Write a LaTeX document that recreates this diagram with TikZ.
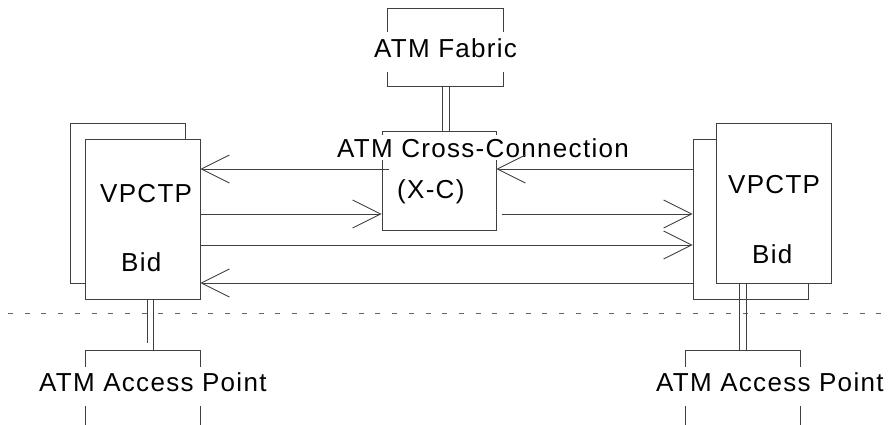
\documentclass[tikz,border=0pt]{standalone}
\usepackage{fontspec}
\setmainfont{Liberation Sans}[LetterSpace=5]
\usetikzlibrary{arrows.meta,calc}
\tikzset{
  ln/.style={draw=black!75, line width=0.9pt},
  boxarea/.style={draw=none, inner sep=0pt, rectangle},
  vpbox/.style={ln, fill=white, inner sep=0pt, rectangle, minimum width=115pt, minimum height=160pt},
  lbl/.style={inner sep=0pt, anchor=base west, font=\fontsize{26}{31}\selectfont},
  arr/.style={ln, -{Straight Barb[length=28pt,width=28pt,line width=0.9pt]}},
  dline/.style={ln}
}
\begin{document}
\begin{tikzpicture}[x=1pt,y=-1pt]
\useasboundingbox (0,0) rectangle (893,425);
% rows for the horizontal connectors
\coordinate (r1) at (0,169);
\coordinate (r2) at (0,214);
\coordinate (r3) at (0,245);
\coordinate (r4) at (0,283);

% ATM Fabric (open-sided box)
\node[boxarea, minimum width=115pt, minimum height=77pt] (fab) at (445.5,47.5) {};
\draw[ln] ($(fab.north west)+(0,23)$) -- (fab.north west) -- (fab.north east) -- ++(0,23);
\draw[ln] ($(fab.south west)+(0,-14)$) -- (fab.south west) -- (fab.south east) -- ++(0,-14);
\node[lbl] (fabt) at (374,58) {ATM Fabric};

% Cross-connection box
\node[ln, inner sep=0pt, rectangle, minimum width=114pt, minimum height=99pt] (xc) at (439,180.5) {};
\node[lbl, fill=white, inner ysep=3pt] (xct) at (337,157) {ATM Cross-Connection};
\node[lbl] (xct2) at (397,198) {(X-C)};

% Left VPCTP
\node[vpbox] (lback) at (127.5,203) {};
\node[vpbox] (lfront) at (142.5,219) {};
\node[lbl] (lvp) at (100,202) {VPCTP};
\node[lbl] (lbid) at (121,271) {Bid};

% Right VPCTP
\node[vpbox] (rback) at (750.5,219) {};
\node[vpbox] (rfront) at (773.5,203) {};
\node[lbl] (rvp) at (728,193) {VPCTP};
\node[lbl] (rbid) at (752,263) {Bid};

% Access points (open-sided boxes)
\node[boxarea, minimum width=114pt, minimum height=74pt] (lap) at (143,388) {};
\node[boxarea, minimum width=114pt, minimum height=74pt] (rap) at (743,388) {};
\foreach \n in {lap,rap}{
  \draw[ln] ($(\n.north west)+(0,16)$) -- (\n.north west) -- (\n.north east) -- ++(0,16);
  \draw[ln] ($(\n.south west)+(0,-19)$) -- (\n.south west);
  \draw[ln] ($(\n.south east)+(0,-19)$) -- (\n.south east);
}
\node[lbl] (lapt) at (39,391) {ATM Access Point};
\node[lbl] (rapt) at (656,391) {ATM Access Point};

% dashed boundary
\coordinate (d1) at (8,313);
\coordinate (d2) at (893,313);
\draw[draw=black!60, line width=0.8pt, dash pattern=on 5pt off 11.7pt] (d1) -- (d2);

% double lines
\coordinate (f1) at ($(fab.south)+(-3.5,0)$);
\coordinate (f2) at ($(fab.south)+(3.5,0)$);
\draw[dline] (f1) -- (f1 |- xc.north);
\draw[dline] (f2) -- (f2 |- xc.north);
\coordinate (l1) at ($(lfront.south)+(4.5,0)$);
\coordinate (l2) at ($(lfront.south)+(10.5,0)$);
\draw[dline] (l1) -- ($(l1 |- lap.north)+(0,-8)$);
\draw[dline] (l2) -- (l2 |- lap.north);
\coordinate (q1) at ($(rfront.south)+(-34.5,0)$);
\coordinate (q2) at ($(rfront.south)+(-27.5,0)$);
\draw[dline] (q1) -- (q1 |- rap.north);
\draw[dline] (q2) -- (q2 |- rap.north);

% horizontal connectors
\draw[arr] ($(xc.west |- r1)+(7,0)$) -- (lfront.east |- r1);
\draw[arr] (lfront.east |- r2) -- (xc.west |- r2);
\draw[arr] (lfront.east |- r3) -- (rback.west |- r3);
\draw[arr] (rback.west |- r4) -- (lfront.east |- r4);
\draw[arr] (rback.west |- r1) -- (xc.east |- r1);
\draw[arr] ($(xc.east |- r2)+(6,0)$) -- (rback.west |- r2);
\end{tikzpicture}
\end{document}
